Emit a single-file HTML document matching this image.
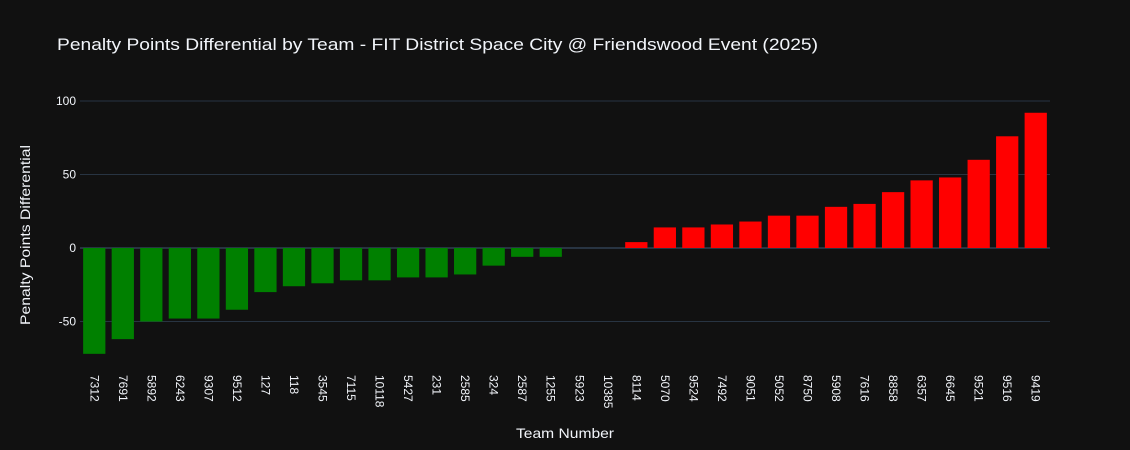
<!DOCTYPE html>
<html><head><meta charset="utf-8"><style>
body{margin:0;background:#111111;}
svg{display:block;font-family:"Liberation Sans",sans-serif;}
</style></head><body>
<svg id="chart" width="1130" height="450">
<rect width="1130" height="450" fill="#111111"/>
<text x="57" y="50" fill="#f2f5fa" font-size="17" textLength="761" lengthAdjust="spacingAndGlyphs">Penalty Points Differential by Team - FIT District Space City @ Friendswood Event (2025)</text>
<g id="grid"></g><g id="bars"></g><g id="xt"></g>
<text transform="translate(30,235) rotate(-90)" text-anchor="middle" fill="#f2f5fa" font-size="14" textLength="180" lengthAdjust="spacingAndGlyphs">Penalty Points Differential</text>
<text x="565" y="438" text-anchor="middle" fill="#f2f5fa" font-size="14" textLength="98" lengthAdjust="spacingAndGlyphs">Team Number</text>
</svg>
<script>
const teams=["7312","7691","5892","6243","9307","9512","127","118","3545","7115","10118","5427","231","2585","324","2587","1255","5923","10385","8114","5070","9524","7492","9051","5052","8750","5908","7616","8858","6357","6645","9521","9516","9419"];
const values=[-72,-62,-50,-48,-48,-42,-30,-26,-24,-22,-22,-20,-20,-18,-12,-6,-6,0,0,4,14,14,16,18,22,22,28,30,38,46,48,60,76,92];
const yTicks=[-50,0,50,100];
const NS="http://www.w3.org/2000/svg";
const x0=80,x1=1050,step=(x1-x0)/teams.length;
function y(v){return 248-v*1.47;}
function mk(t,a,p){const e=document.createElementNS(NS,t);for(const k in a)e.setAttribute(k,a[k]);p.appendChild(e);return e;}
const grid=document.getElementById('grid'),bars=document.getElementById('bars'),xt=document.getElementById('xt');
yTicks.forEach(v=>{
 const l=mk('line',{x1:x0,x2:x1,y1:y(v),y2:y(v),stroke:'#283442','stroke-width':v===0?2:1},grid);
 
 
 const t=mk('text',{x:x0-4,y:y(v)+4,'text-anchor':'end',fill:'#f2f5fa','font-size':12},grid);
 t.textContent=v;
 
 
});
teams.forEach((tm,i)=>{
 const cx=x0+step*(i+0.5),v=values[i],w=step*0.78;
 const r=mk('rect',{x:cx-w/2,y:Math.min(y(v),y(0)),width:w,height:Math.abs(y(v)-y(0)),fill:v<0?'#008000':'#ff0000'},bars);
 
 
 const t=mk('text',{transform:`translate(${cx-4},375) rotate(90)`,fill:'#f2f5fa','font-size':12},xt);
 t.textContent=tm;
 
 
});
</script>
</body></html>
